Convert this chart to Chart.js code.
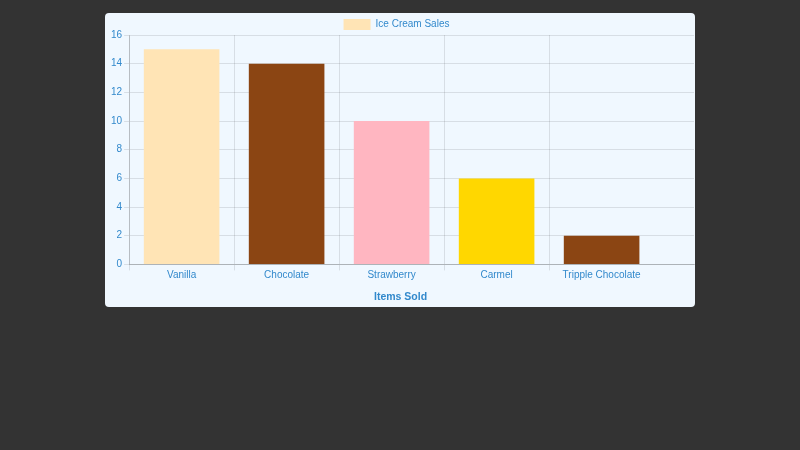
<!DOCTYPE html>
<html><head><meta charset="utf-8">
<script src="https://cdn.jsdelivr.net/npm/chart.js@4/dist/chart.umd.min.js"></script>
<style>
html,body{margin:0;padding:0;background:#333;width:800px;height:450px;overflow:hidden}
#card{position:absolute;left:105px;top:13px;width:590px;height:294px;background:#f0f8ff;border-radius:4px;}
canvas{display:block}
</style></head><body>
<div id="card"><canvas id="c" width="590" height="294"></canvas></div>
<script>
const categories = ['Vanilla', 'Chocolate', 'Strawberry', 'Carmel', 'Tripple Chocolate'];
const sales = [15, 14, 10, 6, 2];
const barColors = ['#FFE4B5', '#8B4513', '#FFB6C1', '#FFD700', '#8B4513'];
const seriesLabel = 'Ice Cream Sales';
const xTitle = 'Items Sold';
const TEXT = '#3289cc';
const GRID = 'rgba(0,0,0,0.1)';
const X_SPAN_EXTRA = 0.38;
const LEGEND_TRIM = 5;
const LEGEND_SHIFT = 5;
const XTITLE_SHIFT = 11;

Chart.defaults.font.family = "'Liberation Sans', Arial, sans-serif";
Chart.defaults.font.size = 10;
Chart.defaults.color = TEXT;

const layoutTweaks = {
  id: 'layoutTweaks',
  beforeLayout(chart) {
    const lg = chart.legend;
    if (lg && !lg._trimmed) {
      const orig = lg.fit.bind(lg);
      lg.fit = function () { orig(); this.height -= LEGEND_TRIM; };
      lg._trimmed = true;
    }
  },
  afterLayout(chart) {
    const lg = chart.legend;
    if (lg) { lg.left -= LEGEND_SHIFT; lg.right -= LEGEND_SHIFT; }
    const xs = chart.scales.x;
    if (xs && !xs._titleShifted) {
      const origTitle = xs.drawTitle.bind(xs);
      xs.drawTitle = function () {
        this.left -= XTITLE_SHIFT; this.right -= XTITLE_SHIFT;
        origTitle();
        this.left += XTITLE_SHIFT; this.right += XTITLE_SHIFT;
      };
      xs._titleShifted = true;
    }
  }
};

new Chart(document.getElementById('c'), {
  type: 'bar',
  data: {
    labels: categories,
    datasets: [{ label: seriesLabel, data: sales, backgroundColor: barColors, borderWidth: 0 }]
  },
  plugins: [layoutTweaks],
  options: {
    responsive: false,
    animation: false,
    layout: { padding: { left: 4, right: 1, top: 5, bottom: 0 } },
    plugins: {
      legend: { labels: { boxWidth: 27, boxHeight: 11, padding: 1 } },
      tooltip: { enabled: false }
    },
    scales: {
      x: {
        grid: {
          tickLength: 6,
          color: (ctx) => (ctx.type === 'tick' ? GRID : 'rgba(0,0,0,0)')
        },
        border: { color: 'rgba(0,0,0,0.2)' },
        ticks: { padding: -1 },
        title: { display: true, text: xTitle, font: { weight: 'bold', size: 10.5 }, padding: { top: 10, bottom: 4 } },
        afterBuildTicks(scale) { scale._valueRange = categories.length + X_SPAN_EXTRA; }
      },
      y: {
        beginAtZero: true,
        grid: { tickLength: 5, color: GRID },
        border: { color: 'rgba(0,0,0,0.15)' },
        ticks: { padding: 2, stepSize: 2 }
      }
    }
  }
});
</script>
</body></html>
